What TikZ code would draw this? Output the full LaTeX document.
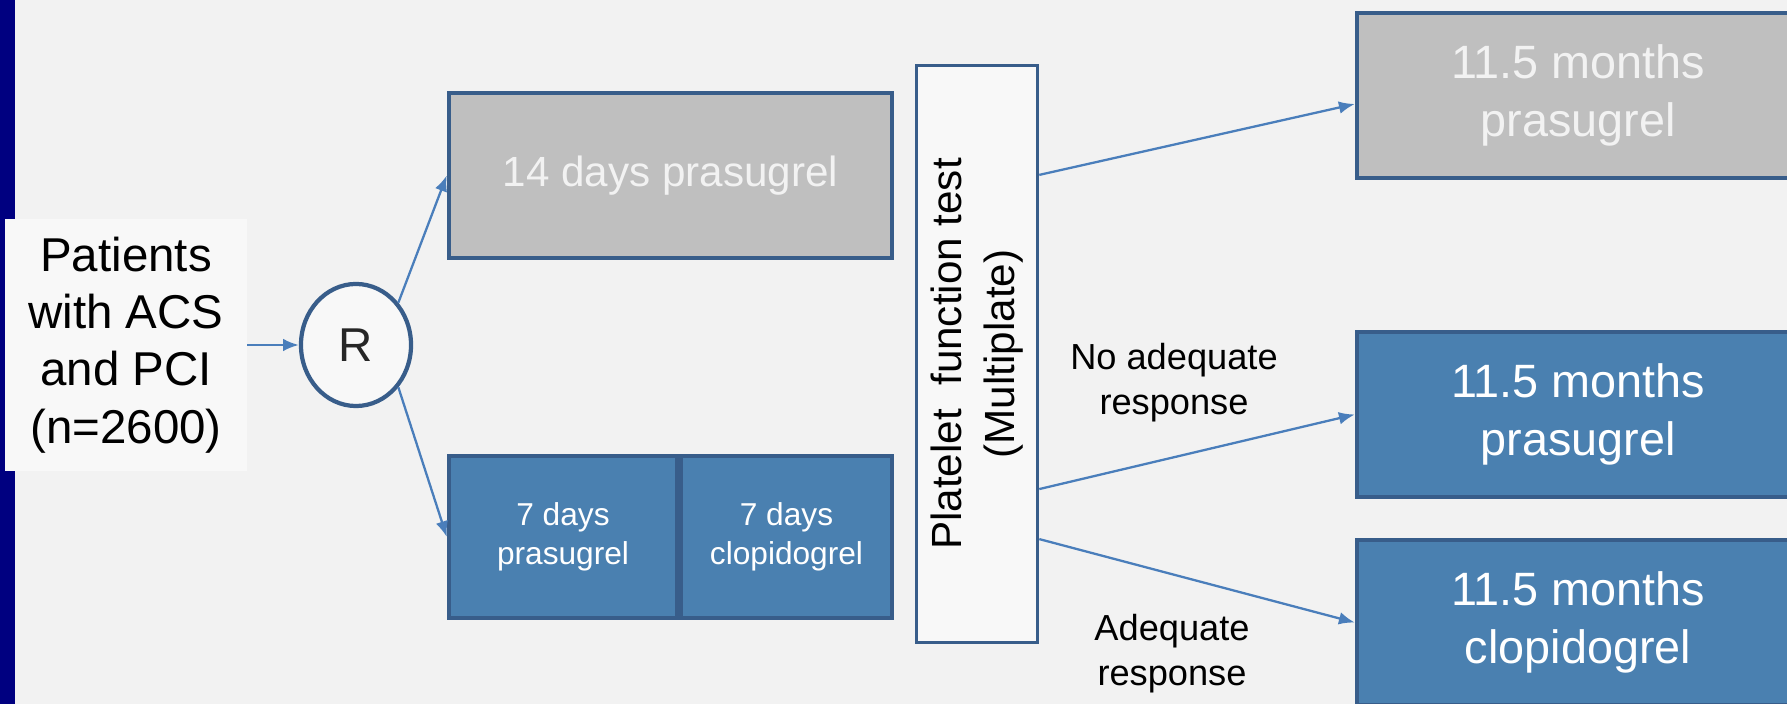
\documentclass[tikz,border=0pt]{standalone}
\usepackage{fontspec}
\setmainfont{Liberation Sans}
\usetikzlibrary{shapes.geometric,arrows.meta}
\usepackage{xcolor}
\definecolor{navystrip}{HTML}{000080}
\definecolor{slidebg}{HTML}{F2F2F2}
\definecolor{paleface}{HTML}{F8F8F8}
\definecolor{rimblue}{HTML}{385D8A}
\definecolor{armblue}{HTML}{4A80B0}
\definecolor{armgray}{HTML}{BFBFBF}
\definecolor{linkblue}{HTML}{4A7EBB}

\begin{document}
\begin{tikzpicture}[x=0.01cm, y=-0.01cm, every node/.style={align=center, inner sep=0pt},
	arm/.style={draw=rimblue, line width=1.2pt, text=white},
	grayarm/.style={arm, fill=armgray, text=slidebg},
	bluearm/.style={arm, fill=armblue},
	outcome/.style={minimum width=4.42cm, minimum height=1.65cm, font=\fontsize{13.3}{16.5}\selectfont},
	link/.style={draw=linkblue, line width=0.65pt, -{Latex[length=4.5pt,width=3.6pt]}},]

\clip (0,0) rectangle (1787,704);
\fill[slidebg] (0,0) rectangle (1787,704);
\fill[navystrip] (0,0) rectangle (15,704);

\node[fill=paleface, minimum width=2.41cm, minimum height=2.52cm, font=\fontsize{13.5}{16.3}\selectfont] (pat) at (126,345) {Patients\\with ACS\\and PCI\\(n=2600)};
\node[ellipse, draw=rimblue, line width=1.2pt, fill=paleface, minimum width=1.1cm, minimum height=1.22cm, text=black!85, font=\fontsize{13.5}{16}\selectfont] (R) at (356,345) {R};

% randomised arms
\node[grayarm, minimum width=4.43cm, minimum height=1.65cm, font=\fontsize{12}{14}\selectfont] (d14) at (670.5,175.5) {14 days prasugrel};
\node[bluearm, minimum width=2.28cm, minimum height=1.62cm, font=\fontsize{9}{11}\selectfont] (p7) at (563,537) {7 days\\prasugrel};
\node[bluearm, minimum width=2.11cm, minimum height=1.62cm, font=\fontsize{9}{11}\selectfont] (c7) at (786.5,537) {7 days\\clopidogrel};

\node[draw=rimblue, line width=1pt, fill=paleface, rotate=90, minimum width=5.77cm, minimum height=1.21cm, font=\fontsize{12}{15}\selectfont] (pft) at (977,354) {Platelet\ \ function test\\(Multiplate)};

% maintenance
\node[grayarm, outcome] (m1) at (1578,95.5) {11.5 months\\prasugrel};
\node[bluearm, outcome] (m2) at (1578,414.5) {11.5 months\\prasugrel};
\node[bluearm, outcome] (m3) at (1578,622.5) {11.5 months\\clopidogrel};

\node[font=\fontsize{10.3}{12.8}\selectfont] (noresp) at (1174,383) {No adequate\\response};
\node[font=\fontsize{10.3}{12.8}\selectfont] (resp) at (1172,654) {Adequate\\response};

\draw[link] (pat) -- (R);
\draw[link] (R.45) -- (d14.west);
\draw[link] (R.-45) -- (p7.west);
\draw[link] ([yshift=1.79cm]pft.south) -- ([yshift=-0.085cm]m1.west);
\draw[link] ([yshift=-1.35cm]pft.south) -- (m2.west);
\draw[link] ([yshift=-1.85cm]pft.south) -- (m3.west);

\end{tikzpicture}
\end{document}
